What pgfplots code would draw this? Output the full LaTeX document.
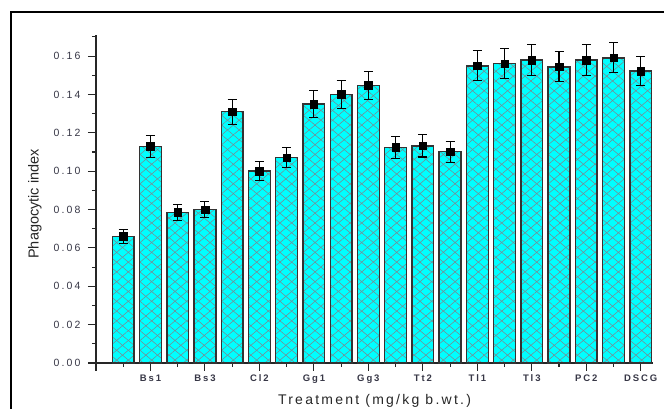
\documentclass[border=0pt]{standalone}
\usepackage{fontspec}
\setmainfont{Liberation Sans}
\newfontfamily\tickfont[LetterSpace=20]{Liberation Sans}
\newfontfamily\labfont[LetterSpace=16]{Liberation Sans}
\usepackage{pgfplots}
\usepackage{pgfplotstable}
\pgfplotsset{compat=1.18}
\usetikzlibrary{patterns.meta}
\definecolor{barcyan}{RGB}{0,255,255}
\definecolor{hatch}{RGB}{130,130,138}
\definecolor{tickgray}{RGB}{55,55,70}
\pgfplotstableread{
x y e
1 0.0660 0.0035
2 0.1130 0.0058
3 0.0785 0.0040
4 0.0800 0.0040
5 0.1310 0.0065
6 0.1000 0.0050
7 0.1070 0.0052
8 0.1350 0.0070
9 0.1400 0.0072
10 0.1447 0.0072
11 0.1124 0.0058
12 0.1132 0.0058
13 0.1102 0.0055
14 0.1549 0.0078
15 0.1561 0.0078
16 0.1579 0.0080
17 0.1544 0.0078
18 0.1579 0.0080
19 0.1591 0.0078
20 0.1522 0.0076
}\phagodata
\begin{document}
\begin{tikzpicture}
\useasboundingbox (0,0) rectangle (664pt,409pt);
\draw[line width=2pt] (11pt,-2pt) -- (11pt,397pt) -- (666pt,397pt);
\begin{axis}[
  at={(96pt,46pt)}, anchor=south west,
  scale only axis, width=557pt, height=328pt,
  xmin=0, xmax=20.45, ymin=0, ymax=0.171,
  axis lines=left,
  axis line style={-, line width=1.1pt, black!85},
  tick align=outside, tick pos=left,
  major tick length=8pt, minor tick length=4pt,
  every tick/.style={line width=1.1pt, black!85},
  xtick={0,2,...,20},
  xticklabels={,Bs1,Bs3,Cl2,Gg1,Gg3,Tt2,Tl1,Tl3,PC2,DSCG},
  minor xtick={1,3,...,19},
  ytick={0,0.02,...,0.161},
  minor ytick={0.01,0.03,...,0.171},
  /pgf/number format/fixed,
  /pgf/number format/fixed zerofill,
  /pgf/number format/precision=2,
  /pgf/number format/assume math mode=true,
  yticklabel style={font=\tickfont\fontsize{10.5}{12}\selectfont, text=tickgray, xshift=-4pt},
  xticklabel style={font=\tickfont\bfseries\fontsize{9.5}{11}\selectfont, text=tickgray},
  scaled y ticks=false,
  xlabel={Treatment (mg/kg b.wt.)},
  ylabel={Phagocytic index},
  xlabel style={font=\labfont\fontsize{14}{16}\selectfont, text=black!85, at={(axis description cs:0.5,0)}, anchor=base, yshift=-42pt},
  ylabel style={font=\fontsize{14.5}{17}\selectfont, text=black!85, at={(axis description cs:0,0.485)}, anchor=center, yshift=61pt},
  clip=false,
]
\addplot[ybar, bar width=0.8, fill=barcyan, draw=black!80, line width=1.4pt,
  postaction={pattern color=hatch, pattern={Lines[angle=40,distance=7.5pt,line width=0.5pt]}},
  postaction={pattern color=hatch, pattern={Lines[angle=-40,distance=7.5pt,line width=0.5pt]}}]
  table[x=x, y=y] {\phagodata};
\addplot[only marks, mark=square*, mark size=3.8pt, black,
  error bars/.cd, y dir=both, y explicit,
  error bar style={line width=1.1pt, black},
  error mark options={rotate=90, mark size=4.5pt, line width=1.1pt, black}]
  table[x=x, y=y, y error=e] {\phagodata};
\end{axis}
\end{tikzpicture}
\end{document}
